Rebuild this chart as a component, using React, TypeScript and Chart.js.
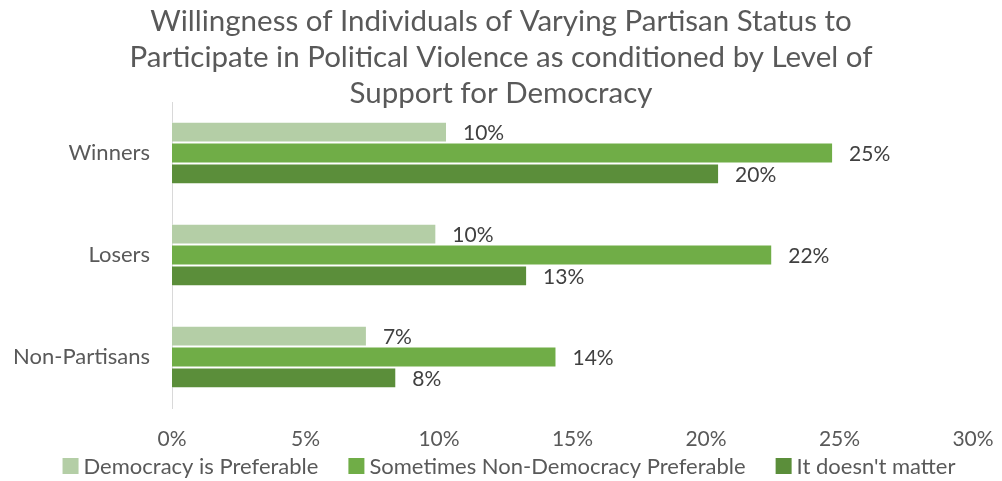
import React, { useEffect, useRef } from "react";
import { Chart, registerables } from "chart.js";

Chart.register(...registerables);

const titleLines = [
  "Willingness of Individuals of Varying Partisan Status to",
  "Participate in Political Violence as conditioned by Level of",
  "Support for Democracy",
];
const categories = ["Winners", "Losers", "Non-Partisans"];
const seriesNames = [
  "Democracy is Preferable",
  "Sometimes Non-Democracy Preferable",
  "It doesn't matter",
];
const democracyPreferable = [10.3, 9.9, 7.3];
const sometimesNonDemocracy = [24.76, 22.48, 14.4];
const doesntMatter = [20.49, 13.3, 8.4];
const xTicks = [0, 5, 10, 15, 20, 25, 30];
const seriesColors = ["#b4cea6", "#70ad47", "#5b8e3a"];

const FONT = "Lato, 'Open Sans', sans-serif";
const TEXT = "#595959";

const titlePlugin = {
  id: "customTitle",
  afterDraw(chart: any) {
    const ctx = chart.ctx;
    ctx.save();
    ctx.font = `29.5px ${FONT}`;
    ctx.fillStyle = TEXT;
    ctx.textAlign = "center";
    ctx.textBaseline = "alphabetic";
    titleLines.forEach((line, i) => {
      ctx.fillText(line, chart.width / 2, 31 + i * 36);
    });
    ctx.restore();
  },
};

const legendPlugin = {
  id: "customLegend",
  afterDraw(chart: any) {
    const ctx = chart.ctx;
    ctx.save();
    ctx.font = `22px ${FONT}`;
    ctx.textBaseline = "middle";
    ctx.textAlign = "left";
    const box = 16;
    const gapText = 5;
    const gapItem = 30;
    const widths = seriesNames.map((n) => box + gapText + ctx.measureText(n).width);
    const total = widths.reduce((a, b) => a + b, 0) + gapItem * (widths.length - 1);
    let x = 509 - total / 2;
    const y = 466;
    chart.data.datasets.forEach((ds: any, i: number) => {
      ctx.fillStyle = ds.backgroundColor;
      ctx.fillRect(x, y - box / 2, box, box);
      ctx.fillStyle = TEXT;
      ctx.fillText(ds.label, x + box + gapText, y + 1);
      x += widths[i] + gapItem;
    });
    ctx.restore();
  },
};

const labelPlugin = {
  id: "barLabels",
  afterDatasetsDraw(chart: any) {
    const ctx = chart.ctx;
    ctx.save();
    ctx.font = `21px ${FONT}`;
    ctx.fillStyle = "#404040";
    ctx.textAlign = "left";
    ctx.textBaseline = "middle";
    chart.data.datasets.forEach((ds: any, di: number) => {
      const meta = chart.getDatasetMeta(di);
      meta.data.forEach((bar: any, i: number) => {
        const v = ds.data[i];
        ctx.fillText(Math.round(v) + "%", bar.x + 16, bar.y + 1);
      });
    });
    ctx.restore();
  },
};

export default function App() {
  const ref = useRef<HTMLCanvasElement>(null);
  useEffect(() => {
    document.body.style.margin = "0";
    const mk = (i: number, data: number[]) => ({
      label: seriesNames[i],
      data,
      backgroundColor: seriesColors[i],
      borderColor: "rgba(255,255,255,0.35)",
      borderWidth: 1,
    });
    const chart = new Chart(ref.current!, {
      type: "bar",
      data: {
        labels: categories,
        datasets: [
          mk(0, democracyPreferable),
          mk(1, sometimesNonDemocracy),
          mk(2, doesntMatter),
        ],
      },
      options: {
        indexAxis: "y",
        animation: false,
        responsive: false,
        devicePixelRatio: 1,
        layout: { padding: { top: 102, right: 29, left: 0, bottom: 0 } },
        datasets: {
          bar: { barPercentage: 1, categoryPercentage: 0.615 },
        },
        scales: {
          x: {
            min: 0,
            max: 30,
            afterBuildTicks(scale: any) {
              scale.ticks = xTicks.map((v) => ({ value: v }));
            },
            afterFit(scale: any) {
              scale.height = 73;
              scale.paddingLeft = 0;
              scale.paddingRight = 0;
            },
            grid: { display: false, drawTicks: false },
            border: { display: false },
            ticks: {
              padding: 19,
              color: TEXT,
              font: { family: FONT, size: 21 },
              callback: (v: any) => v + "%",
            },
          },
          y: {
            afterFit(scale: any) {
              scale.width = 172;
              scale.paddingTop = 0;
              scale.paddingBottom = 0;
            },
            grid: { display: false, drawTicks: false },
            border: { display: true, color: "#d9d9d9", width: 1 },
            ticks: {
              padding: 22,
              color: TEXT,
              font: { family: FONT, size: 22 },
            },
          },
        },
        plugins: {
          title: { display: false },
          tooltip: { enabled: false },
          legend: { display: false },
        },
      },
      plugins: [titlePlugin, labelPlugin, legendPlugin],
    } as any);
    return () => chart.destroy();
  }, []);
  return (
    <div style={{ width: 1002, height: 481 }}>
      <canvas ref={ref} width={1002} height={481} style={{ display: "block" }} />
    </div>
  );
}
